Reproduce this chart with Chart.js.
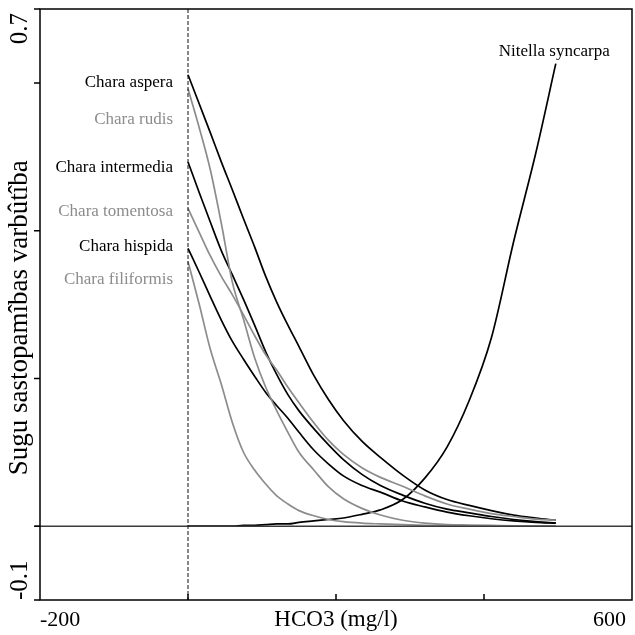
<!DOCTYPE html>
<html>
<head>
<meta charset="utf-8">
<script src="https://cdn.jsdelivr.net/npm/chart.js@4.4.1/dist/chart.umd.min.js"></script>
<style>
  html, body { margin: 0; padding: 0; background: #fff; }
  #wrap { width: 635px; height: 635px; }
</style>
</head>
<body>
<div id="wrap"><canvas id="chart" width="635" height="635"></canvas></div>
<script>
// HCO3 sample points (mg/l)
const hco3 = [0, 15, 30, 45, 60, 75, 90, 105, 120, 135, 150, 170, 190, 210, 235, 260, 290, 320, 350, 380, 410, 440, 470, 497];

// occurrence probability per species
const charaAspera     = [0.611, 0.572, 0.533, 0.493, 0.455, 0.416, 0.378, 0.338, 0.303, 0.272, 0.243, 0.204, 0.171, 0.143, 0.115, 0.093, 0.069, 0.049, 0.036, 0.028, 0.021, 0.015, 0.011, 0.008];
const charaRudis      = [0.592, 0.540, 0.483, 0.410, 0.330, 0.280, 0.228, 0.188, 0.156, 0.127, 0.100, 0.076, 0.053, 0.037, 0.024, 0.015, 0.008, 0.004, 0.002, 0.0015, 0.001, 0.0005, 0, 0];
const charaIntermedia = [0.493, 0.452, 0.412, 0.373, 0.340, 0.307, 0.272, 0.236, 0.205, 0.178, 0.156, 0.132, 0.110, 0.090, 0.070, 0.055, 0.042, 0.031, 0.023, 0.018, 0.013, 0.009, 0.006, 0.004];
const charaTomentosa  = [0.430, 0.398, 0.366, 0.338, 0.313, 0.286, 0.258, 0.232, 0.211, 0.188, 0.167, 0.140, 0.116, 0.097, 0.079, 0.066, 0.054, 0.041, 0.030, 0.023, 0.017, 0.013, 0.0095, 0.008];
const charaHispida    = [0.376, 0.344, 0.311, 0.279, 0.250, 0.226, 0.203, 0.181, 0.163, 0.146, 0.127, 0.103, 0.084, 0.068, 0.055, 0.046, 0.034, 0.026, 0.019, 0.014, 0.010, 0.007, 0.005, 0.004];
const charaFiliformis = [0.358, 0.301, 0.240, 0.192, 0.140, 0.100, 0.076, 0.057, 0.041, 0.030, 0.021, 0.014, 0.009, 0.006, 0.004, 0.003, 0.002, 0.001, 0.0005, 0, 0, 0, 0, 0];
const nitellaSyncarpa = [0, 0, 0, 0, 0, 0.001, 0.001, 0.002, 0.003, 0.003, 0.005, 0.007, 0.009, 0.011, 0.016, 0.022, 0.036, 0.065, 0.107, 0.170, 0.255, 0.385, 0.505, 0.626];

// axis ticks and the two labelled ends
const xTickValues = [-200, 0, 200, 400, 600];
const yTickValues = [-0.1, 0, 0.2, 0.4, 0.6, 0.7];
const xTickLabels = ['-200', '600'];
const yTickLabels = ['0.7', '-0.1'];

const BLACK = '#000000';
const GREY = '#8c8c8c';
const SERIF = '"Liberation Serif", "Times New Roman", serif';

function toPoints(values) {
    return hco3.map((x, i) => ({ x: x, y: values[i] }));
}

function series(label, values, color) {
    return {
        label: label,
        data: toPoints(values),
        borderColor: color,
        borderWidth: 1.7,
        pointRadius: 0,
        fill: false,
        cubicInterpolationMode: 'monotone'
    };
}

const datasets = [
    series('Chara filiformis', charaFiliformis, GREY),
    series('Chara rudis', charaRudis, GREY),
    series('Chara tomentosa', charaTomentosa, GREY),
    series('Chara hispida', charaHispida, BLACK),
    series('Chara intermedia', charaIntermedia, BLACK),
    series('Chara aspera', charaAspera, BLACK),
    series('Nitella syncarpa', nitellaSyncarpa, BLACK)
];

// text labels next to the curves, in data units
const curveLabels = [
    { text: 'Chara aspera', y: 0.601, color: BLACK },
    { text: 'Chara rudis', y: 0.551, color: GREY },
    { text: 'Chara intermedia', y: 0.485, color: BLACK },
    { text: 'Chara tomentosa', y: 0.426, color: GREY },
    { text: 'Chara hispida', y: 0.378, color: BLACK },
    { text: 'Chara filiformis', y: 0.334, color: GREY }
];

const framePlugin = {
    id: 'framePlugin',
    afterDatasetsDraw(chart) {
        const { ctx, chartArea: a, scales: { x, y } } = chart;
        ctx.save();
        // zero line
        const y0 = y.getPixelForValue(0);
        ctx.strokeStyle = '#3a3a3a';
        ctx.lineWidth = 1.5;
        ctx.beginPath();
        ctx.moveTo(a.left - 5, y0);
        ctx.lineTo(a.right, y0);
        ctx.stroke();
        // dashed line at 0 mg/l
        const x0 = x.getPixelForValue(0);
        ctx.strokeStyle = '#111';
        ctx.lineWidth = 1;
        ctx.setLineDash([4, 2]);
        ctx.beginPath();
        ctx.moveTo(x0, a.top);
        ctx.lineTo(x0, a.bottom);
        ctx.stroke();
        ctx.restore();
    },
    afterDraw(chart) {
        const { ctx, chartArea: a, scales: { x, y } } = chart;
        ctx.save();
        // frame
        ctx.strokeStyle = BLACK;
        ctx.lineWidth = 1.5;
        ctx.strokeRect(a.left, a.top, a.right - a.left, a.bottom - a.top);

        // left ticks point out, bottom ticks point in
        ctx.beginPath();
        yTickValues.forEach(v => {
            const py = y.getPixelForValue(v);
            ctx.moveTo(a.left - 6, py);
            ctx.lineTo(a.left, py);
        });
        xTickValues.slice(1, -1).forEach(v => {
            const px = x.getPixelForValue(v);
            ctx.moveTo(px, a.bottom);
            ctx.lineTo(px, a.bottom - 6);
        });
        ctx.stroke();

        ctx.fillStyle = BLACK;
        ctx.textBaseline = 'middle';
        ctx.font = '22px ' + SERIF;

        // x tick labels at the ends
        ctx.textAlign = 'left';
        ctx.fillText(xTickLabels[0], x.getPixelForValue(-200), 620);
        ctx.textAlign = 'right';
        ctx.fillText(xTickLabels[1], x.getPixelForValue(600) - 6, 620);

        // y tick labels, rotated
        ctx.font = '25px ' + SERIF;
        ctx.save();
        ctx.translate(20, y.getPixelForValue(0.7) + 4);
        ctx.rotate(-Math.PI / 2);
        ctx.textAlign = 'right';
        ctx.fillText(yTickLabels[0], 0, 0);
        ctx.restore();
        ctx.save();
        ctx.translate(20, y.getPixelForValue(-0.1));
        ctx.rotate(-Math.PI / 2);
        ctx.textAlign = 'left';
        ctx.fillText(yTickLabels[1], 0, 0);
        ctx.restore();

        // axis titles
        ctx.font = '23px ' + SERIF;
        ctx.textAlign = 'center';
        ctx.fillText('HCO3 (mg/l)', x.getPixelForValue(200), 620);
        ctx.save();
        ctx.translate(20, y.getPixelForValue(0.282));
        ctx.rotate(-Math.PI / 2);
        ctx.font = '27px ' + SERIF;
        ctx.fillText('Sugu sastopamîbas varbûtîba', 0, 0);
        ctx.restore();

        // curve labels
        ctx.font = '17px ' + SERIF;
        ctx.textAlign = 'right';
        const lx = x.getPixelForValue(0) - 15;
        curveLabels.forEach(l => {
            ctx.fillStyle = l.color;
            ctx.fillText(l.text, lx, y.getPixelForValue(l.y));
        });
        ctx.fillStyle = BLACK;
        ctx.textAlign = 'center';
        ctx.fillText('Nitella syncarpa', x.getPixelForValue(495), y.getPixelForValue(0.643));
        ctx.restore();
    }
};

new Chart(document.getElementById('chart').getContext('2d'), {
    type: 'line',
    data: { datasets: datasets },
    options: {
        responsive: false,
        animation: false,
        layout: { padding: { top: 9, right: 3, left: 0, bottom: 0 } },
        plugins: { legend: { display: false }, tooltip: { enabled: false } },
        scales: {
            x: {
                type: 'linear',
                min: -200,
                max: 600,
                afterBuildTicks: scale => { scale.ticks = xTickValues.map(v => ({ value: v })); },
                afterFit: scale => { scale.height = 35; },
                ticks: { display: false },
                grid: { display: false },
                border: { display: false }
            },
            y: {
                type: 'linear',
                min: -0.1,
                max: 0.7,
                afterBuildTicks: scale => { scale.ticks = yTickValues.map(v => ({ value: v })); },
                afterFit: scale => { scale.width = 40; },
                ticks: { display: false },
                grid: { display: false },
                border: { display: false }
            }
        }
    },
    plugins: [framePlugin]
});
</script>
</body>
</html>
